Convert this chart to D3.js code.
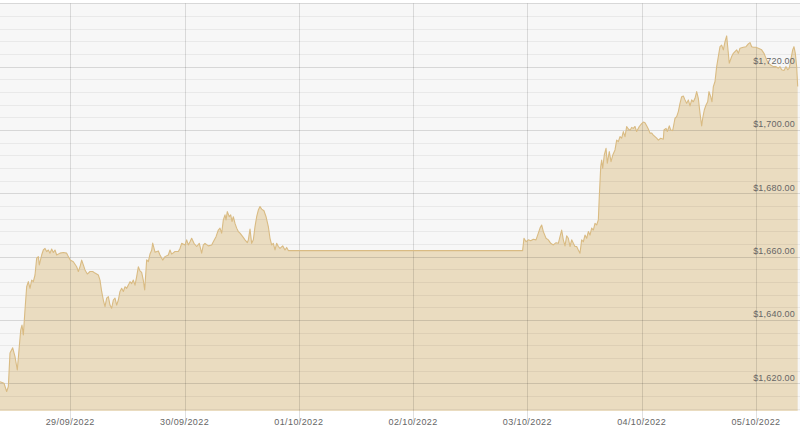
<!DOCTYPE html>
<html>
<head>
<meta charset="utf-8">
<script src="https://cdn.jsdelivr.net/npm/d3@7"></script>
<style>
	html, body { margin: 0; padding: 0; background: #fff; }
	svg { display: block; }
	.tick-label { font-family: "Liberation Sans", Arial, sans-serif; font-size: 9px; fill: #666; }
</style>
</head>
<body>
<div id="graph"></div>
<script>

// gold price, 7 day view (28/09/2022 09:15 -> 05/10/2022 09:15)
const times = [
	'28/09 09:15', '28/09 10:05', '28/09 10:39', '28/09 11:00', '28/09 11:21', '28/09 11:55', '28/09 12:24', '28/09 12:53',
	'28/09 13:18', '28/09 13:36', '28/09 13:52', '28/09 14:09', '28/09 14:30', '28/09 14:51', '28/09 15:12', '28/09 15:33',
	'28/09 15:54', '28/09 16:15', '28/09 16:36', '28/09 16:57', '28/09 17:18', '28/09 17:30', '28/09 18:00', '28/09 18:21',
	'28/09 18:42', '28/09 19:03', '28/09 19:24', '28/09 19:45', '28/09 20:06', '28/09 20:27', '28/09 20:48', '28/09 21:09',
	'28/09 21:51', '28/09 22:33', '28/09 23:15', '28/09 23:36',
	'29/09 00:00', '29/09 00:39', '29/09 01:21', '29/09 01:42', '29/09 02:03', '29/09 02:24', '29/09 02:45', '29/09 03:06',
	'29/09 03:35', '29/09 04:09', '29/09 04:43', '29/09 05:12', '29/09 05:54', '29/09 06:15', '29/09 06:36', '29/09 06:57',
	'29/09 07:18', '29/09 07:39', '29/09 08:00', '29/09 08:21', '29/09 08:42', '29/09 09:03', '29/09 09:24', '29/09 09:45',
	'29/09 10:06', '29/09 10:27', '29/09 10:48', '29/09 11:09', '29/09 11:30', '29/09 11:51', '29/09 12:12', '29/09 12:33',
	'29/09 12:54', '29/09 13:15', '29/09 13:36', '29/09 13:57', '29/09 14:18', '29/09 14:39', '29/09 15:00', '29/09 15:21',
	'29/09 15:38', '29/09 16:03', '29/09 16:24', '29/09 16:45', '29/09 17:06', '29/09 17:19', '29/09 17:48', '29/09 18:30',
	'29/09 18:51', '29/09 19:25', '29/09 19:54', '29/09 20:36', '29/09 20:57', '29/09 21:18', '29/09 22:00', '29/09 22:42',
	'29/09 23:03', '29/09 23:24',
	'30/09 00:06', '30/09 00:27', '30/09 00:48', '30/09 01:09', '30/09 01:30', '30/09 01:59', '30/09 02:33', '30/09 03:06',
	'30/09 03:36', '30/09 03:57', '30/09 04:18', '30/09 05:00', '30/09 05:42', '30/09 06:03', '30/09 06:37', '30/09 07:06',
	'30/09 07:27', '30/09 07:48', '30/09 08:09', '30/09 08:30', '30/09 08:43', '30/09 08:59', '30/09 09:24', '30/09 09:42',
	'30/09 09:58', '30/09 10:15', '30/09 10:36', '30/09 10:57', '30/09 11:18', '30/09 11:39', '30/09 12:13', '30/09 12:42',
	'30/09 13:11', '30/09 13:24', '30/09 13:45', '30/09 14:06', '30/09 14:27', '30/09 14:48', '30/09 15:09', '30/09 15:30',
	'30/09 15:51', '30/09 16:12', '30/09 16:41', '30/09 17:07', '30/09 17:36', '30/09 17:57', '30/09 18:18', '30/09 18:39',
	'30/09 19:00', '30/09 19:21', '30/09 19:42', '30/09 20:03', '30/09 20:37', '30/09 21:06', '30/09 21:27', '30/09 21:48',
	'30/09 22:00',
	'02/10 23:00', '02/10 23:17', '02/10 23:43',
	'03/10 00:12', '03/10 00:42', '03/10 01:15', '03/10 01:49', '03/10 02:18', '03/10 02:39', '03/10 03:00', '03/10 03:21',
	'03/10 03:55', '03/10 04:24', '03/10 04:54', '03/10 05:27', '03/10 06:01', '03/10 06:30', '03/10 06:51', '03/10 07:12',
	'03/10 07:33', '03/10 07:54', '03/10 08:15', '03/10 08:36', '03/10 08:57', '03/10 09:18', '03/10 09:39', '03/10 10:00',
	'03/10 10:21', '03/10 10:42', '03/10 11:03', '03/10 11:24', '03/10 11:45', '03/10 12:06', '03/10 12:27', '03/10 12:48',
	'03/10 13:09', '03/10 13:30', '03/10 13:51', '03/10 14:12', '03/10 14:33', '03/10 14:54', '03/10 15:06', '03/10 15:24',
	'03/10 15:36', '03/10 15:49', '03/10 16:09', '03/10 16:31', '03/10 16:47', '03/10 17:12', '03/10 17:34', '03/10 17:55',
	'03/10 18:24', '03/10 18:45', '03/10 19:06', '03/10 19:27', '03/10 19:48', '03/10 20:09', '03/10 20:30', '03/10 20:51',
	'03/10 21:12', '03/10 21:33', '03/10 21:54', '03/10 22:15', '03/10 22:36', '03/10 22:57', '03/10 23:30',
	'04/10 00:00', '04/10 00:21', '04/10 00:42', '04/10 01:03', '04/10 01:24', '04/10 01:45', '04/10 02:07', '04/10 02:27',
	'04/10 02:48', '04/10 03:09', '04/10 03:30', '04/10 04:00', '04/10 04:33', '04/10 04:41', '04/10 05:07', '04/10 05:23',
	'04/10 05:48', '04/10 06:06', '04/10 06:31', '04/10 07:00', '04/10 07:21', '04/10 07:42', '04/10 08:03', '04/10 08:24',
	'04/10 08:45', '04/10 09:06', '04/10 09:27', '04/10 09:48', '04/10 10:09', '04/10 10:30', '04/10 10:51', '04/10 11:12',
	'04/10 11:33', '04/10 11:54', '04/10 12:15', '04/10 12:36', '04/10 12:49', '04/10 13:09', '04/10 13:31', '04/10 13:52',
	'04/10 14:08', '04/10 14:30', '04/10 14:46', '04/10 15:03', '04/10 15:24', '04/10 15:45', '04/10 16:06', '04/10 16:27',
	'04/10 16:48', '04/10 17:09', '04/10 17:30', '04/10 17:51', '04/10 18:04', '04/10 18:24', '04/10 18:54', '04/10 19:15',
	'04/10 19:57', '04/10 20:18', '04/10 20:39', '04/10 21:21', '04/10 21:55', '04/10 22:24', '04/10 22:45', '04/10 23:06',
	'04/10 23:27',
	'05/10 00:00', '05/10 00:30', '05/10 01:12', '05/10 01:41', '05/10 02:07', '05/10 02:36', '05/10 03:06', '05/10 03:39',
	'05/10 04:13', '05/10 04:42', '05/10 05:03', '05/10 05:24', '05/10 05:53', '05/10 06:19', '05/10 06:40', '05/10 07:00',
	'05/10 07:18', '05/10 07:43', '05/10 07:59', '05/10 08:16', '05/10 08:33', '05/10 08:46'
]

const prices = [
	1620.5, 1620.0, 1617.4, 1619.0, 1629.6, 1631.2, 1628.4, 1624.2,
	1631.6, 1636.8, 1638.4, 1635.3, 1643.2, 1650.5, 1652.1, 1650.0,
	1652.6, 1652.1, 1654.2, 1659.5, 1660.0, 1657.4, 1660.5, 1662.1,
	1662.6, 1661.6, 1662.1, 1661.1, 1662.4, 1661.3, 1662.1, 1660.5,
	1661.1, 1661.3, 1661.1, 1660.0,
	1658.9, 1658.4, 1656.8, 1655.3, 1656.8, 1658.9, 1657.4, 1655.8,
	1654.5, 1655.3, 1655.3, 1654.8, 1654.2, 1652.6, 1649.0, 1646.3,
	1644.2, 1646.9, 1647.4, 1644.7, 1643.7, 1646.3, 1646.9, 1644.7,
	1646.3, 1649.0, 1650.0, 1649.0, 1650.5, 1650.0, 1651.0, 1652.1,
	1651.5, 1652.6, 1651.0, 1653.7, 1656.8, 1655.5, 1655.0, 1652.5,
	1649.5, 1659.0, 1658.4, 1660.8, 1662.0, 1664.3, 1661.4, 1661.8,
	1660.5, 1658.9, 1660.0, 1660.5, 1662.1, 1660.8, 1661.6, 1661.6,
	1662.6, 1664.2,
	1663.7, 1665.3, 1663.7, 1664.7, 1665.8, 1664.2, 1663.2, 1664.2,
	1661.1, 1663.7, 1664.2, 1663.4, 1663.7, 1664.7, 1666.3, 1668.4,
	1669.0, 1667.4, 1671.6, 1673.2, 1671.6, 1674.2, 1672.6, 1673.2,
	1671.1, 1672.6, 1670.5, 1669.0, 1667.9, 1667.4, 1666.3, 1665.3,
	1664.4, 1665.3, 1668.7, 1664.2, 1665.3, 1669.5, 1672.6, 1674.7,
	1675.8, 1675.0, 1674.5, 1672.6, 1669.5, 1665.8, 1663.7, 1664.2,
	1662.1, 1664.2, 1663.2, 1662.6, 1663.4, 1662.1, 1662.9, 1661.9,
	1661.9,
	1661.9, 1665.8, 1664.7,
	1665.3, 1665.0, 1665.5, 1665.3, 1667.4, 1669.0, 1670.0, 1667.9,
	1665.8, 1665.3, 1664.2, 1663.7, 1664.4, 1664.2, 1666.3, 1668.4,
	1665.3, 1663.4, 1666.6, 1665.8, 1663.2, 1665.3, 1664.2, 1663.2,
	1663.2, 1662.1, 1661.1, 1665.3, 1664.7, 1666.8, 1665.8, 1667.9,
	1666.8, 1669.0, 1668.4, 1670.5, 1670.0, 1671.6, 1678.9, 1688.4,
	1690.5, 1687.9, 1692.1, 1694.2, 1689.5, 1693.2, 1690.0, 1692.0,
	1693.7, 1696.8, 1696.3, 1697.9, 1697.4, 1699.5, 1697.9, 1701.1,
	1700.3, 1699.9, 1700.8, 1700.5, 1701.1, 1699.5, 1701.1,
	1702.0, 1702.5, 1702.3, 1701.3, 1700.3, 1699.0, 1699.0, 1698.4,
	1697.9, 1697.4, 1696.8, 1697.4, 1697.1, 1700.0, 1700.5, 1699.5,
	1701.3, 1700.0, 1699.8, 1703.7, 1704.2, 1705.8, 1708.4, 1710.5,
	1710.7, 1709.5, 1708.4, 1709.5, 1707.6, 1709.5, 1708.9, 1710.0,
	1712.1, 1710.0, 1705.3, 1701.3, 1703.7, 1706.3, 1707.9, 1708.9,
	1712.1, 1710.5, 1708.9, 1713.7, 1715.3, 1720.0, 1723.2, 1726.3,
	1726.8, 1725.3, 1727.9, 1729.7, 1726.3, 1721.1, 1723.2, 1724.2,
	1725.3, 1724.2, 1725.8, 1726.1, 1726.3, 1727.2, 1727.6, 1726.3,
	1726.1,
	1726.1, 1725.8, 1725.3, 1724.2, 1722.6, 1721.1, 1720.5, 1720.0,
	1720.0, 1719.5, 1720.0, 1719.0, 1718.8, 1720.0, 1719.0, 1719.5,
	1722.1, 1725.3, 1726.3, 1724.2, 1720.0, 1713.7
]

const dayTicks = ['29/09/2022', '30/09/2022', '01/10/2022', '02/10/2022', '03/10/2022', '04/10/2022', '05/10/2022']
const priceTicks = [1620, 1640, 1660, 1680, 1700, 1720, 1740]
const minorStep = 4
const timeWindow = ['28/09 09:15', '05/10 09:15']
const priceWindow = [1611.25, 1740]

let width = 800
	, height = 432
	, plotTop = 3.3
	, plotBottom = 411
	, parseTime = d3.timeParse('%d/%m/%Y %H:%M')
	, parseDay = d3.timeParse('%d/%m/%Y')
	, toDate = s => parseTime(s.slice(0, 5) + '/2022' + s.slice(5))
	, money = d3.format(',.2f')

const data = times.map((t, i) => ({ date: toDate(t), price: prices[i] }))

const x = d3.scaleTime()
	.domain(timeWindow.map(toDate))
	.range([0, width])

const y = d3.scaleLinear()
	.domain(priceWindow)
	.range([plotBottom, plotTop])

const svg = d3.select('#graph')
	.append('svg')
	  .attr('width', width)
	  .attr('height', height)

// plot background
svg.append('rect')
	.attr('x', 0)
	.attr('y', plotTop)
	.attr('width', width)
	.attr('height', plotBottom - plotTop)
	.attr('fill', '#f7f7f7')

// price area
const area = d3.area()
	.x(d => x(d.date))
	.y0(plotBottom)
	.y1(d => y(d.price))

const line = d3.line()
	.x(d => x(d.date))
	.y(d => y(d.price))

svg.append('path')
	.datum(data)
	.attr('d', area)
	.attr('fill', '#eadcc0')

// horizontal grid, minor every $4, major every $20
const minorTicks = d3.range(priceWindow[0] - priceWindow[0] % minorStep + minorStep, priceWindow[1] + 0.1, minorStep)
	.filter(v => priceTicks.indexOf(v) < 0)

svg.append('g')
	.selectAll('line')
	.data(minorTicks)
	.join('line')
	  .attr('x1', 0)
	  .attr('x2', width)
	  .attr('y1', d => Math.round(y(d)) + 0.5)
	  .attr('y2', d => Math.round(y(d)) + 0.5)
	  .attr('stroke', 'rgba(0,0,0,0.055)')

svg.append('g')
	.selectAll('line')
	.data(priceTicks)
	.join('line')
	  .attr('x1', 0)
	  .attr('x2', width)
	  .attr('y1', d => Math.round(y(d)) + 0.5)
	  .attr('y2', d => Math.round(y(d)) + 0.5)
	  .attr('stroke', 'rgba(0,0,0,0.13)')

// vertical day lines, run a little below the plot
svg.append('g')
	.selectAll('line')
	.data(dayTicks)
	.join('line')
	  .attr('x1', d => Math.round(x(parseDay(d))) + 0.5)
	  .attr('x2', d => Math.round(x(parseDay(d))) + 0.5)
	  .attr('y1', plotTop)
	  .attr('y2', plotBottom + 10)
	  .attr('stroke', 'rgba(0,0,0,0.12)')

svg.append('path')
	.datum(data)
	.attr('d', line)
	.attr('fill', 'none')
	.attr('stroke', '#d9bb83')
	.attr('stroke-width', 1.1)
	.attr('stroke-linejoin', 'round')

// labels
svg.append('g')
	.selectAll('text')
	.data(dayTicks)
	.join('text')
	  .attr('class', 'tick-label')
	  .attr('x', d => x(parseDay(d)))
	  .attr('y', 425)
	  .attr('text-anchor', 'middle')
	  .style('letter-spacing', '0.4px')
	  .text(d => d)

svg.append('g')
	.selectAll('text')
	.data(priceTicks.filter(v => v < priceWindow[1]))
	.join('text')
	  .attr('class', 'tick-label')
	  .attr('x', 795)
	  .attr('y', d => y(d) - 2.5)
	  .attr('text-anchor', 'end')
	  .style('letter-spacing', '0.2px')
	  .text(d => '$' + money(d))

</script>
</body>
</html>
